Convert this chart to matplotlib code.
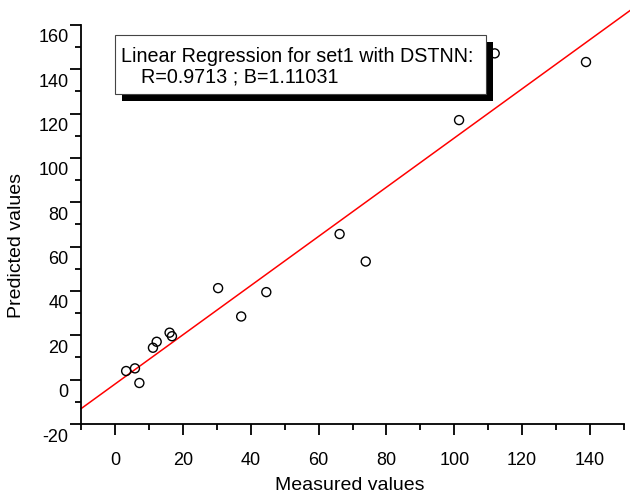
import matplotlib
matplotlib.use("Agg")
import matplotlib.pyplot as plt
import matplotlib.transforms as mtransforms
from matplotlib.patches import Rectangle
import numpy as np

plt.rcParams['font.family'] = ['Liberation Sans', 'DejaVu Sans']
plt.rcParams['axes.unicode_minus'] = False

# measured vs predicted values for set1
measured = [3.3, 5.9, 7.2, 11.2, 12.3, 16.1, 16.8, 30.4, 37.2, 44.6, 66.2, 73.9, 101.4, 111.9, 138.8]
predicted = [3.9, 5.1, -1.5, 14.4, 17.1, 21.2, 19.6, 41.3, 28.5, 39.5, 65.7, 53.3, 117.1, 147.2, 143.3]

# fitted regression line
slope_b = 1.11031
intercept_a = -2.0
corr_r = 0.9713
line_x = [-10, 153]

W, H = 630, 500
fig = plt.figure(figsize=(W / 100, H / 100), dpi=100)
ax = fig.add_axes([81 / W, 1 - 424 / H, (624 - 81) / W, (424 - 25) / H])

ax.scatter(measured, predicted, s=42, facecolors='none', edgecolors='black',
           linewidths=1.0, zorder=3, clip_on=False)
fx = np.array(line_x)
ax.plot(fx, intercept_a + slope_b * fx, color='red', lw=1.1, clip_on=False, zorder=2)

ax.set_xlim(-10, 150)
ax.set_ylim(-20, 160)
ax.set_xticks(np.arange(0, 141, 20))
ax.set_xticks(np.arange(-10, 151, 10), minor=True)
ax.set_yticks(np.arange(-20, 161, 20))
ax.set_yticks(np.arange(-20, 161, 10), minor=True)

for side in ['top', 'right']:
    ax.spines[side].set_visible(False)
for side in ['left', 'bottom']:
    ax.spines[side].set_linewidth(1.3)

ax.tick_params(which='major', length=8, width=1.3, labelsize=13)
ax.tick_params(which='minor', length=4.5, width=1.3)
ax.tick_params(axis='x', which='major', pad=12)
ax.tick_params(axis='y', which='major', pad=1)

# y tick labels sit a little below their ticks
shift = mtransforms.ScaledTranslation(0, -11 / 100, fig.dpi_scale_trans)
for lab in ax.get_yticklabels():
    lab.set_transform(lab.get_transform() + shift)

fig.text(350 / W, 1 - 486 / H, 'Measured values', fontsize=14, ha='center', va='center')
fig.text(17 / W, 1 - 245 / H, 'Predicted values', fontsize=14, ha='center', va='center',
         rotation=90)

# annotation box with drop shadow, drawn over the data
bx0, by0, bx1, by1 = 115, 35, 486, 94
fig.add_artist(Rectangle(((bx0 + 7) / W, 1 - (by1 + 7) / H), (bx1 - bx0) / W, (by1 - by0) / H,
                         transform=fig.transFigure, facecolor='black', edgecolor='black', lw=0,
                         zorder=5))
fig.add_artist(Rectangle((bx0 / W, 1 - by1 / H), (bx1 - bx0) / W, (by1 - by0) / H,
                         transform=fig.transFigure, facecolor='white', edgecolor='#444444', lw=0.8,
                         zorder=6))
fig.text(121 / W, 1 - 56 / H, 'Linear Regression for set1 with DSTNN:', fontsize=14.2,
         ha='left', va='center', zorder=7)
fig.text(141 / W, 1 - 77 / H, f'R={corr_r} ; B={slope_b}', fontsize=14.2,
         ha='left', va='center', zorder=7)

fig.savefig('out.png', dpi=100)
